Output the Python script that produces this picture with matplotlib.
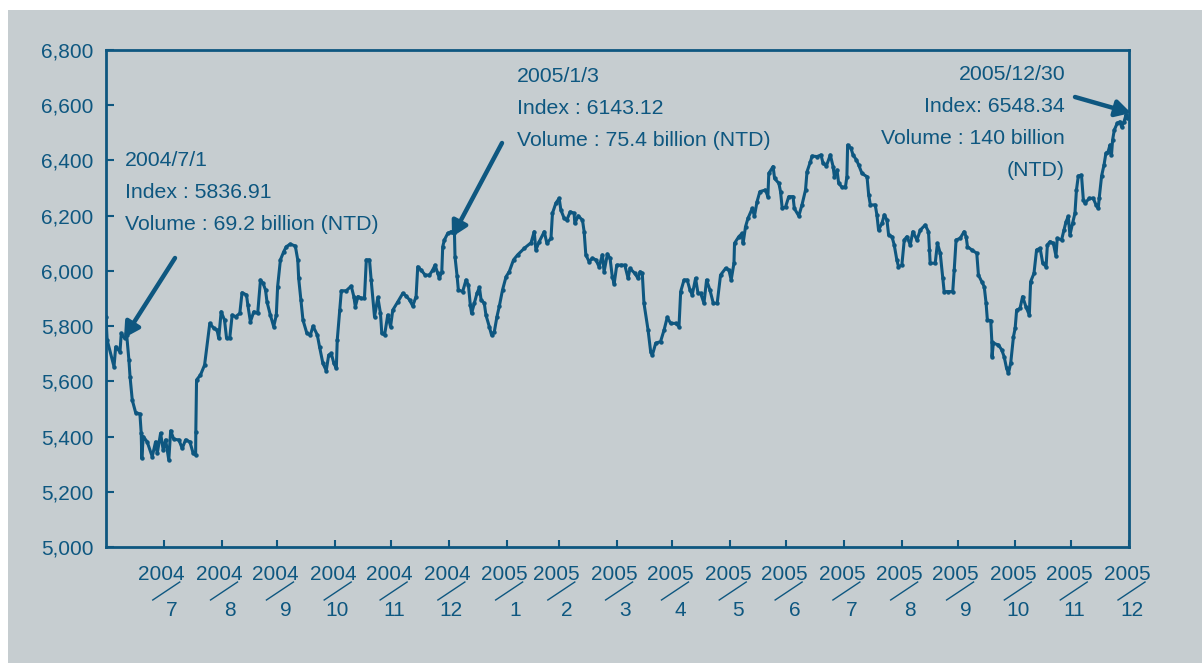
import numpy as np
import pandas as pd
import matplotlib
matplotlib.use("Agg")
import matplotlib.pyplot as plt
import matplotlib.dates as mdates
import matplotlib.transforms as mtransforms
from matplotlib.patches import Rectangle, FancyArrowPatch
from matplotlib.lines import Line2D

# ---------------- data ----------------
start_date = "2004-07-01"
days = [0, 0.6, 4.3, 5.2, 7.5, 8.2, 10.0, 11.1, 12.3, 12.9, 14.1, 15.9, 18.2, 18.9, 19.2, 20.0,
        22.1, 24.8, 26.6, 27.5, 29.3, 30.7, 32.0, 33.7, 34.7, 36.4, 39.1, 40.9, 42.7, 45.0, 46.8,
        48.1, 48.2, 48.6, 50.7, 52.9, 55.7, 57.9, 59.6, 60.5, 61.8, 63.6, 64.7, 66.4, 67.7, 69.5,
        71.8, 73.0, 75.4, 76.1, 77.5, 79.3, 81.4, 82.9, 84.3, 85.6, 86.4, 88.2, 90.0, 91.4, 92.1,
        93.6, 95.4, 96.8, 98.9, 101.6, 102.9, 103.4, 104.6, 105.7, 107.8, 109.7, 111.1,
        113.4, 114.6, 116.4, 118.2, 119.5, 120.9, 122.3, 123.6, 124.1, 125.4, 126.3, 128.9, 131.6,
        133.0, 133.8, 135.2, 137.0, 138.7, 139.7, 141.4, 142.3, 144.1, 145.9, 147.3, 148.0, 149.5,
        151.2, 152.7, 153.9, 156.6, 159.3, 161.1, 162.9, 164.6, 166.4, 167.3, 169.1, 171.3, 173.6,
        175.3, 176.6, 178.0, 178.9, 180.2, 180.7, 181.6, 183.4, 185.2, 187.0, 187.3, 188.4, 189.1,
        191.4, 193.2, 194.5, 195.5, 196.2, 197.7, 199.1, 200.4, 201.3, 203.0, 203.9, 205.7, 206.9,
        208.4, 209.8, 211.1, 212.8, 214.7, 216.4,
        218.7, 220.9, 224.5, 228.1, 229.8, 230.7, 232.5, 235.2, 236.6, 238.8, 239.6, 241.4, 243.2,
        244.1, 245.9, 247.3, 249.1, 251.2, 251.6, 253.4, 255.7, 256.6, 257.5, 259.3, 261.0, 262.9,
        264.6, 266.4, 267.3, 269.1, 270.5, 271.7, 272.7, 274.1, 276.2, 278.4, 280.2, 281.2, 283.8,
        285.5, 286.6, 287.8, 288.7, 290.9, 292.3, 293.2, 295.0, 297.6, 299.5, 301.2, 303.0, 305.7,
        307.5, 308.4, 310.2, 311.9, 313.4, 314.6, 316.4, 317.7, 319.1, 320.9, 322.3, 324.1, 325.9,
        328.0,
        329.8, 332.5, 334.3, 335.5, 337.0, 337.3, 339.6, 341.4, 341.9, 343.2, 344.5, 346.8, 348.0,
        349.4, 350.9, 353.9, 355.2, 355.7, 358.0, 358.8, 361.1, 362.0, 362.9, 364.7, 366.4, 368.7,
        369.4, 371.8, 373.5, 375.4, 376.2, 378.0, 378.9, 381.6, 383.7, 384.8, 386.6, 388.7, 390.2,
        390.9, 392.3, 393.2, 395.0, 396.8, 397.6, 398.0, 399.8, 400.9, 402.7, 403.9, 405.7, 408.4,
        409.3, 410.2, 412.8, 413.7, 414.6, 416.4, 417.7, 419.1, 420.0, 421.8, 423.0, 424.4, 425.3,
        427.1, 428.4, 429.8, 431.6, 433.0,
        435.2, 437.0, 439.6, 441.4, 441.9, 442.3, 445.0, 446.2, 447.7, 449.1, 449.8, 452.1, 454.4,
        455.2, 456.2, 458.4, 460.5, 461.6, 462.3, 464.6, 467.3, 468.2, 470.0, 471.3, 472.3, 473.0,
        474.8, 475.4, 475.5, 476.2, 478.9, 480.7, 482.0, 483.3, 484.3, 485.5, 487.0, 487.9, 488.7,
        490.5, 491.9, 493.7, 495.5, 496.2, 498.0, 499.4, 501.3, 502.7, 504.5, 505.2, 506.6, 508.4,
        509.8, 510.5, 512.8, 514.1, 515.2, 516.4, 517.3, 518.7, 520.0, 520.8, 521.8, 523.5, 524.5,
        525.4, 527.7, 529.8, 531.3, 532.5, 533.0, 534.3, 535.6, 536.6, 537.8, 538.8, 539.6, 540.2,
        541.1, 542.7, 544.1, 545.0, 546.3, 547.4, 547.9]

index_values = [5834, 5750, 5653, 5725, 5707, 5774, 5756, 5768, 5677, 5617, 5532, 5487, 5482, 5412, 5321, 5400,
        5381, 5327, 5381, 5339, 5412, 5351, 5388, 5315, 5421, 5390, 5388, 5357, 5388, 5381, 5339,
        5333, 5418, 5605, 5623, 5659, 5810, 5792, 5786, 5756, 5852, 5822, 5756, 5756, 5840, 5834,
        5846, 5921, 5913, 5877, 5816, 5852, 5846, 5967, 5955, 5931, 5888, 5840, 5798, 5840, 5943,
        6040, 6070, 6088, 6097, 6090, 6040, 5973, 5895, 5822, 5774, 5768, 5800,
        5768, 5725, 5665, 5639, 5695, 5701, 5665, 5647, 5750, 5858, 5928, 5928, 5945,
        5907, 5870, 5907, 5901, 5901, 6040, 6040, 5967, 5834, 5904, 5846, 5774, 5768,
        5840, 5798, 5858, 5888, 5919, 5909, 5895, 5873, 5907, 6015, 6003, 5985, 5985,
        6003, 6021, 5991, 5973, 5997, 6088, 6112, 6136, 6142, 6136, 6051, 5982, 5931,
        5925, 5967, 5949, 5877, 5846, 5883, 5919, 5940, 5895, 5883, 5840, 5798, 5768,
        5780, 5834, 5873, 5931, 5979, 5997,
        6040, 6058, 6082, 6102, 6142, 6076, 6106, 6142, 6100, 6118, 6209, 6245, 6263,
        6221, 6190, 6184, 6214, 6209, 6172, 6199, 6184, 6142, 6058, 6033, 6046, 6040,
        6015, 6058, 5997, 6061, 6046, 5979, 5953, 6021, 6021, 6021, 5973, 6009, 5991,
        5973, 5997, 5991, 5883, 5786, 5707, 5695, 5738, 5744, 5786, 5832, 5810, 5810,
        5798, 5925, 5967, 5967, 5931, 5913, 5973, 5919, 5919, 5883, 5967, 5931, 5883,
        5883,
        5985, 6009, 6003, 5967, 6028, 6100, 6124, 6136, 6100, 6160, 6190, 6226, 6199,
        6251, 6287, 6293, 6269, 6353, 6378, 6335, 6317, 6287, 6226, 6232, 6269, 6269,
        6226, 6199, 6239, 6293, 6359, 6395, 6416, 6414, 6420, 6390, 6380, 6420, 6378,
        6341, 6365, 6317, 6303, 6303, 6341, 6456, 6444, 6420, 6402, 6384, 6353, 6341,
        6275, 6239, 6239, 6203, 6148, 6172, 6203, 6184, 6130, 6124, 6094, 6040, 6015,
        6021, 6112, 6124, 6094, 6142,
        6112, 6148, 6166, 6142, 6076, 6028, 6028, 6100, 6064, 5973, 5925, 5925, 5925,
        6003, 6112, 6118, 6142, 6124, 6088, 6076, 6064, 5985, 5961, 5943, 5883, 5822,
        5820, 5744, 5689, 5738, 5732, 5714, 5689, 5647, 5629, 5665, 5762, 5792, 5858,
        5864, 5907, 5870, 5840, 5961, 5991, 6076, 6082, 6028, 6015, 6094, 6106, 6100,
        6054, 6118, 6112, 6148, 6178, 6197, 6130, 6172, 6209, 6293, 6344, 6347, 6257,
        6245, 6263, 6263, 6239, 6226, 6263, 6344, 6384, 6426, 6432, 6456, 6420, 6474,
        6510, 6535, 6540, 6522, 6540, 6565, 6553]

tick_years = ["2004"] * 6 + ["2005"] * 12
tick_months = ["7", "8", "9", "10", "11", "12", "1", "2", "3", "4", "5", "6",
               "7", "8", "9", "10", "11", "12"]
y_ticks = [5000, 5200, 5400, 5600, 5800, 6000, 6200, 6400, 6600, 6800]

notes = [
    ["2004/7/1", "Index : 5836.91", "Volume : 69.2 billion (NTD)"],
    ["2005/1/3", "Index : 6143.12", "Volume : 75.4 billion (NTD)"],
    ["2005/12/30", "Index: 6548.34", "Volume : 140 billion", "(NTD)"],
]

# ---------------- style ----------------
BLUE = "#0e5780"
BG = "#c6cdd0"
FONT = "Liberation Sans"
FS_TICK = 15
FS_NOTE = 15.3

plt.rcParams["font.family"] = [FONT, "DejaVu Sans"]

W, H = 1202, 663
fig = plt.figure(figsize=(W / 100, H / 100), dpi=100)
fig.patch.set_facecolor("white")
fig.patches.append(Rectangle((8 / W, 0), 1 - 8 / W, 1 - 10 / H, transform=fig.transFigure,
                             facecolor=BG, edgecolor="none", zorder=-10))

L, R, T, B = 106, 1129, 50, 547
ax = fig.add_axes([L / W, 1 - B / H, (R - L) / W, (B - T) / H])
ax.set_facecolor(BG)

dates = pd.Timestamp(start_date) + pd.to_timedelta(np.array(days), unit="D")
ax.plot(dates, index_values, color=BLUE, lw=2.2, marker="o", ms=3.2,
        markeredgewidth=0, zorder=3)

ax.set_xlim(pd.Timestamp("2004-07-01"), pd.Timestamp("2006-01-01"))
ax.set_ylim(5000, 6800)

for s in ax.spines.values():
    s.set_color(BLUE)
    s.set_linewidth(2.0)

ax.set_yticks(y_ticks)
ax.set_yticklabels([f"{v:,}" for v in y_ticks], fontsize=FS_TICK, color=BLUE)
ax.tick_params(axis="y", direction="in", length=6, width=1.5, color=BLUE, pad=9)

tick_pos = pd.date_range("2004-08-01", "2006-01-01", freq="MS")
ax.set_xticks(tick_pos)
ax.set_xticklabels([])
ax.tick_params(axis="x", direction="in", length=5, width=1.5, color=BLUE)

# custom two-level x labels with a slash between year and month
xtrans = ax.get_xaxis_transform()
y_year = (B - 574) / (B - T)
y_month = (B - 611) / (B - T)
y_sl0 = (B - 600) / (B - T)
y_sl1 = (B - 582) / (B - T)
t_left = mtransforms.offset_copy(xtrans, fig, x=-11, y=0, units="dots")
t_right = mtransforms.offset_copy(xtrans, fig, x=16, y=0, units="dots")
for t, yr, mo in zip(tick_pos, tick_years, tick_months):
    ax.text(t, y_year, yr, transform=mtransforms.offset_copy(xtrans, fig, x=-2, y=0, units="dots"),
            ha="center", va="center", fontsize=FS_TICK, color=BLUE, clip_on=False)
    ax.text(t, y_month, mo, transform=mtransforms.offset_copy(xtrans, fig, x=14, y=0, units="dots"),
            ha="right", va="center", fontsize=FS_TICK, color=BLUE, clip_on=False)
    tn = mdates.date2num(t)
    p0 = t_left.transform((tn, y_sl0))
    p1 = t_right.transform((tn, y_sl1))
    fig.add_artist(Line2D([p0[0] / W, p1[0] / W], [p0[1] / H, p1[1] / H],
                          transform=fig.transFigure, color=BLUE, lw=1.0))


def ax_xy(px, py):
    return ((px - L) / (R - L), (B - py) / (B - T))


# annotation texts
for i, txt in enumerate(notes[0]):
    ax.text(*ax_xy(125, 160 + 32.5 * i), txt, transform=ax.transAxes, ha="left", va="center",
            fontsize=FS_NOTE, color=BLUE)
for i, txt in enumerate(notes[1]):
    ax.text(*ax_xy(517, 76 + 32 * i), txt, transform=ax.transAxes, ha="left", va="center",
            fontsize=FS_NOTE, color=BLUE)
for i, txt in enumerate(notes[2]):
    ax.text(*ax_xy(1065, 74 + 32 * i), txt, transform=ax.transAxes, ha="right", va="center",
            fontsize=FS_NOTE, color=BLUE)

# arrows
for (sx, sy), (ex, ey) in [((175, 258), (124, 338)), ((502, 143), (452, 237)),
                           ((1075, 97), (1131, 113))]:
    arr = FancyArrowPatch(ax_xy(sx, sy), ax_xy(ex, ey), transform=ax.transAxes,
                          arrowstyle="-|>,head_length=9,head_width=5", mutation_scale=1,
                          color=BLUE, lw=3.2, shrinkA=0, shrinkB=0, clip_on=False, zorder=5)
    ax.add_patch(arr)

fig.savefig("out.png", dpi=100, facecolor=fig.get_facecolor())
